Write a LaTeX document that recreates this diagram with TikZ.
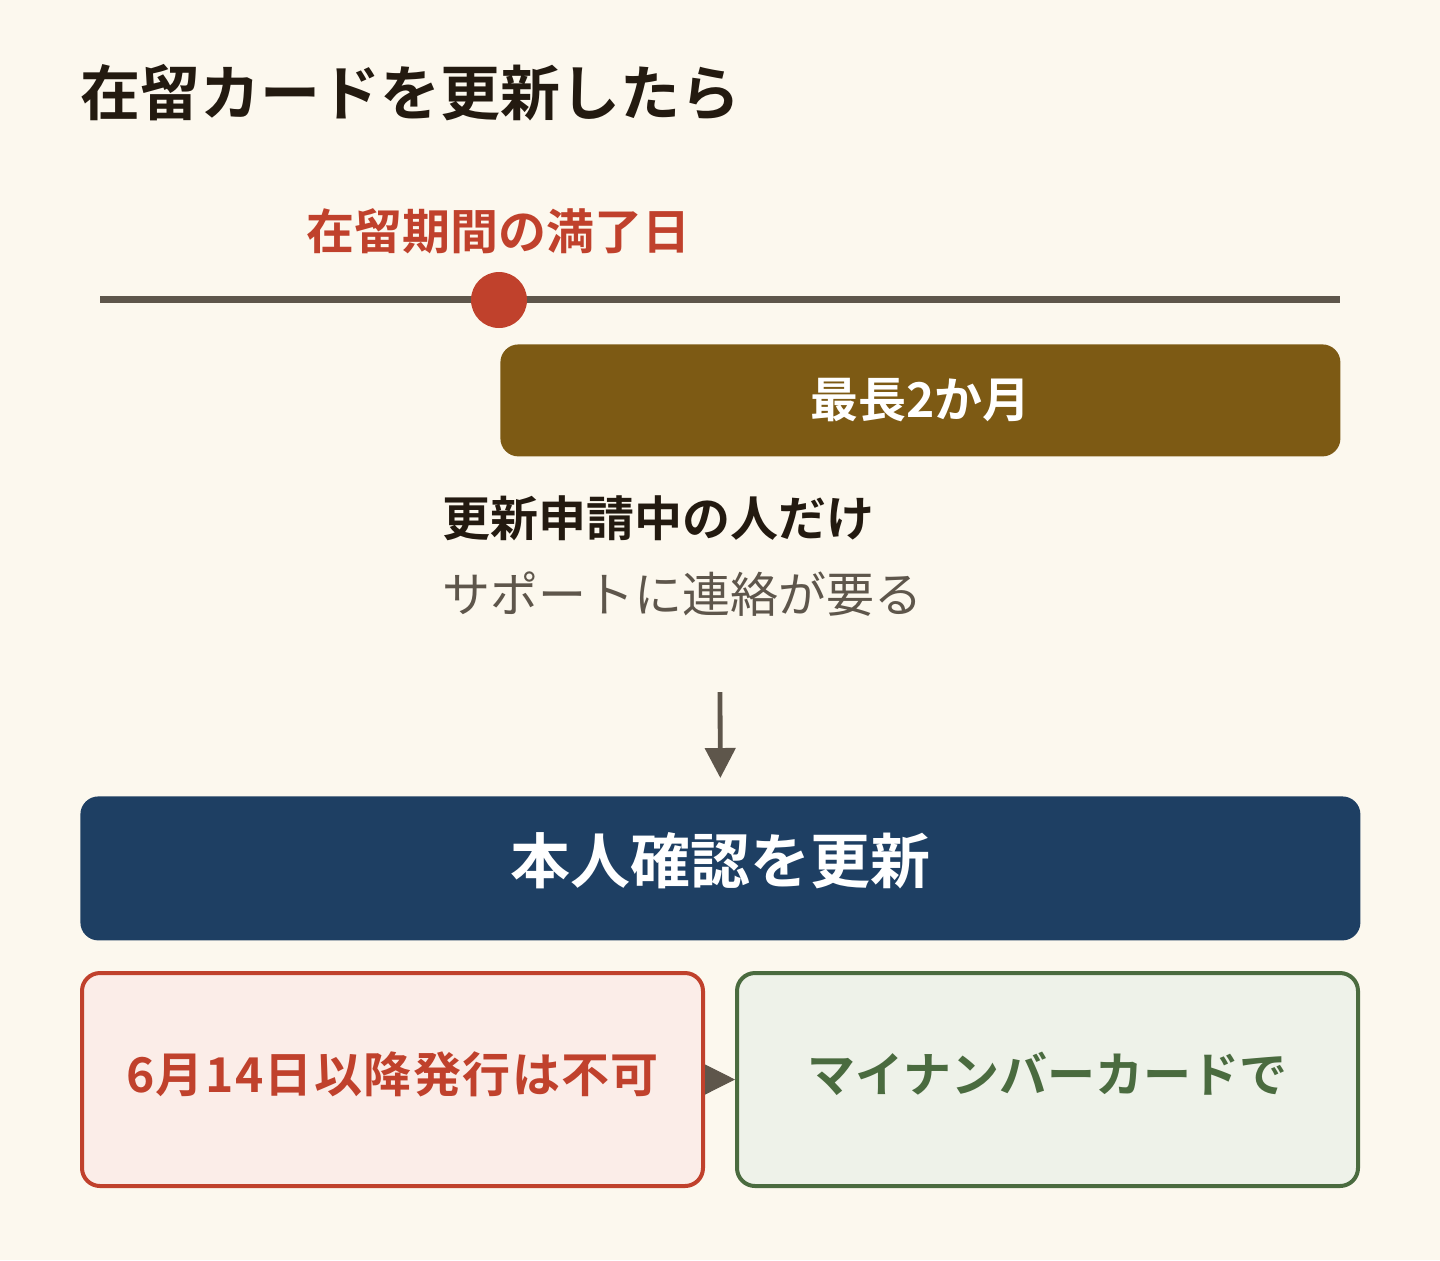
\documentclass[tikz,border=0pt]{standalone}
\usepackage{fontspec}
\setmainfont{Noto Sans CJK JP}[BoldFont={Noto Sans CJK JP Bold}]
\usetikzlibrary{arrows.meta, positioning}
\definecolor{paper}{HTML}{FCF8EE}
\definecolor{ink}{HTML}{231A10}
\definecolor{slate}{HTML}{5E564B}
\definecolor{rust}{HTML}{C0412C}
\definecolor{ochre}{HTML}{7D5A14}
\definecolor{navy}{HTML}{1E3F63}
\definecolor{moss}{HTML}{4A6B3F}
\definecolor{blush}{HTML}{FBEDE8}
\definecolor{sage}{HTML}{EEF2E9}
\newcommand{\jsize}[1]{\fontsize{#1}{#1}\selectfont}

\begin{document}
\begin{tikzpicture}[x=0.5pt, y=-0.5pt,
		panel/.style={rounded corners=9pt, inner sep=0, anchor=north west},
		raised/.style={text height=#1, text depth=1pt},
		notebox/.style={panel, raised=14pt, line width=2pt, minimum width=310.5pt, minimum height=106.5pt, font=\bfseries\jsize{24}},
		label/.style={inner sep=0, font=\jsize{24}}]
		\useasboundingbox[fill=paper] (0,0) rectangle (1440,1260);
		% heading
		\node [label, anchor=west, text=ink, font=\bfseries\jsize{30}] (title) at (80,93) {在留カードを更新したら};
		% timeline
		\coordinate (tlstart) at (100,299);
		\coordinate (tlend) at (1340,299);
		\draw [slate, line width=3.5pt] (tlstart)--(tlend);
		\node [circle, fill=rust, minimum size=28pt, inner sep=0] (expiry) at (499,300) {};
		\node [label, text=rust, font=\bfseries\jsize{24}] (expirylbl) at (498,231) {在留期間の満了日};
		\node [panel, fill=ochre, minimum width=420pt, minimum height=56pt, text=white, font=\bfseries\jsize{24}] (grace) at (500,344) {最長2か月};
		% condition
		\node [label, anchor=west, text=ink, font=\bfseries\jsize{24}] (who) at (442,518) {更新申請中の人だけ};
		\node [label, anchor=west, text=slate] (contact) at (442,594) {サポートに連絡が要る};
		% result
		\coordinate (arrtop) at (720,692);
		\node [panel, raised=15.6pt, fill=navy, minimum width=640pt, minimum height=72pt, text=white, font=\bfseries\jsize{30}] (renew) at (80,796) {本人確認を更新};
		\draw [-{Triangle[length=15pt, width=15pt]}, slate, line width=2.4pt, shorten >=9pt] (arrtop)--(renew.north);
		\node [notebox, draw=rust, fill=blush, text=rust] (nocard) at (80,971) {\addfontfeature{LetterSpace=3}6月14日以降発行は不可};
		\node [notebox, draw=moss, fill=sage, text=moss] (mycard) at (735,971) {マイナンバーカードで};
		\draw [-{Triangle[length=15pt, width=15pt]}, slate, line width=0.5pt] (nocard.east)--(mycard.west);
	\end{tikzpicture}
\end{document}
